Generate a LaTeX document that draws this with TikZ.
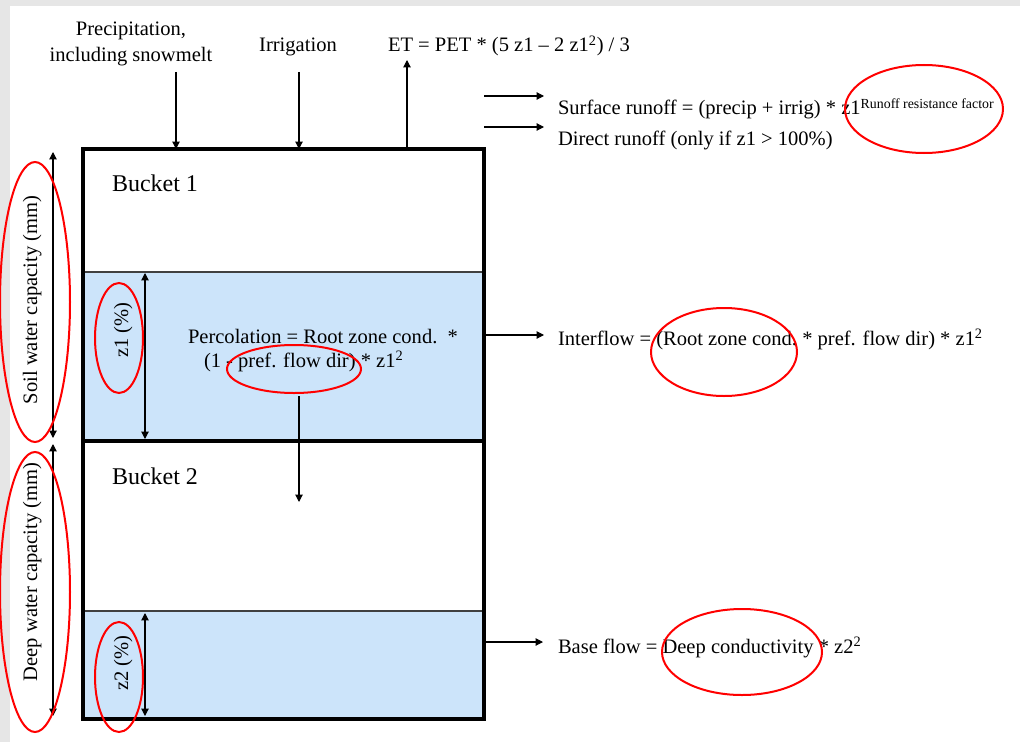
\documentclass[tikz,border=0pt]{standalone}
\usepackage{fontspec}
\setmainfont{Liberation Serif}
\usetikzlibrary{arrows.meta}
\definecolor{bucketblue}{RGB}{204,228,250}
\definecolor{framegray}{RGB}{230,230,230}
\begin{document}
\begin{tikzpicture}[x=0.75pt,y=-0.75pt,
  every node/.style={inner sep=0pt, outer sep=0pt},
  txt/.style={font=\fontsize{15.4}{18}\selectfont},
  big/.style={font=\fontsize{18}{21}\selectfont},
  arr/.style={-{Triangle[length=5.5pt,width=5.5pt]}, line width=0.8pt},
  dim/.style={{Triangle[length=5.5pt,width=5.5pt]}-{Triangle[length=5.5pt,width=5.5pt]}, line width=0.8pt},
  ring/.style={draw=red, line width=1.5pt},
  water/.style={fill=bucketblue, draw=black!75, line width=0.9pt},
  wall/.style={line width=3pt}]
\useasboundingbox (0,0) rectangle (1020,742);
\fill[framegray] (0,0) rectangle (1020,742);
\fill[white] (10,6) rectangle (1020,742);

% buckets
\coordinate (B1tl) at (83,149);
\coordinate (Mid l) at (83,441);
\coordinate (Mid r) at (484,441);
\coordinate (B2br) at (484,719);
\draw[water] (83,272) rectangle (Mid r);
\draw[water] (83,611) rectangle (B2br);
\draw[wall] (B1tl) rectangle (B2br);
\draw[wall] (Mid l) -- (Mid r);

\node[big, anchor=base west] (bucket1) at (112,191) {Bucket 1};
\node[big, anchor=base west] (bucket2) at (112,484) {Bucket 2};

% top inputs
\node[txt, anchor=base] (precipA) at (131,36) {Precipitation,};
\node[txt, anchor=base] (precipB) at (131,61) {including snowmelt};
\node[txt, anchor=base] (irrig) at (298,52) {Irrigation};
\node[txt, anchor=base west] (et) at (388,52) {ET = PET * (5 z1 – 2 z1\textsuperscript{2}) / 3};
\coordinate (pin) at (176,72);
\coordinate (pbox) at (176,149);
\coordinate (iin) at (299,72);
\coordinate (ibox) at (299,149);
\coordinate (ebox) at (407,149);
\coordinate (eout) at (407,60);
\draw[arr] (pin) -- (pbox);
\draw[arr] (iin) -- (ibox);
\draw[arr] (ebox) -- (eout);

% runoff
\coordinate (s0) at (484,96);
\coordinate (s1) at (544,96);
\coordinate (d0) at (484,127);
\coordinate (d1) at (544,127);
\draw[arr] (s0) -- (s1);
\draw[arr] (d0) -- (d1);
\node[txt, anchor=base west] (surface) at (558,114) {Surface runoff = (precip + irrig) * z1\raisebox{4.5pt}{\fontsize{10.4}{12}\selectfont Runoff resistance factor}};
\node[txt, anchor=base west] (direct) at (558,145) {Direct runoff (only if z1 > 100\%)};

% interflow
\coordinate (i0) at (484,335);
\coordinate (i1) at (544,335);
\draw[arr] (i0) -- (i1);
\node[txt, anchor=base west] (interflow) at (558,345) {Interflow = (Root zone cond.\ * pref. flow dir) * z1\textsuperscript{2}};

% base flow
\coordinate (b0) at (484,642);
\coordinate (b1) at (543,642);
\draw[arr] (b0) -- (b1);
\node[txt, anchor=base west] (baseflow) at (558,653) {Base flow = Deep conductivity * z2\textsuperscript{2}};

% percolation
\node[txt, anchor=base west] (percA) at (188,343) {Percolation = Root zone cond.\ \ *};
\node[txt, anchor=base west] (percB) at (204,367) {(1 - pref. flow dir) * z1\textsuperscript{2}};
\coordinate (pc0) at (299,396);
\coordinate (pc1) at (299,502);
\draw[arr] (pc0) -- (pc1);

% dimensions
\coordinate (sw0) at (53,152);
\coordinate (sw1) at (53,438);
\coordinate (dw0) at (53,444);
\coordinate (dw1) at (53,716);
\coordinate (z10) at (145,273);
\coordinate (z11) at (145,439);
\coordinate (z20) at (145,613);
\coordinate (z21) at (145,716);
\draw[dim] (sw0) -- (sw1);
\draw[dim] (dw0) -- (dw1);
\draw[dim] (z10) -- (z11);
\draw[dim] (z20) -- (z21);
\node[txt, rotate=90, anchor=base] (soil) at (37,300) {Soil water capacity (mm)};
\node[txt, rotate=90, anchor=base] (deep) at (37,572) {Deep water capacity (mm)};
\node[txt, rotate=90, anchor=base] (z1) at (128,330) {z1 (\%)};
\node[txt, rotate=90, anchor=base] (z2) at (128,663) {z2 (\%)};

% red rings
\draw[ring] (35,302) ellipse [x radius=35, y radius=140];
\draw[ring] (35,592) ellipse [x radius=35, y radius=140];
\draw[ring] (119,338) ellipse [x radius=24, y radius=55];
\draw[ring] (119,677) ellipse [x radius=24, y radius=55];
\draw[ring] (294,369) ellipse [x radius=67, y radius=24];
\draw[ring] (924,109) ellipse [x radius=79, y radius=44];
\draw[ring] (724,352) ellipse [x radius=73, y radius=44];
\draw[ring] (742,652) ellipse [x radius=80, y radius=43];
\end{tikzpicture}
\end{document}
